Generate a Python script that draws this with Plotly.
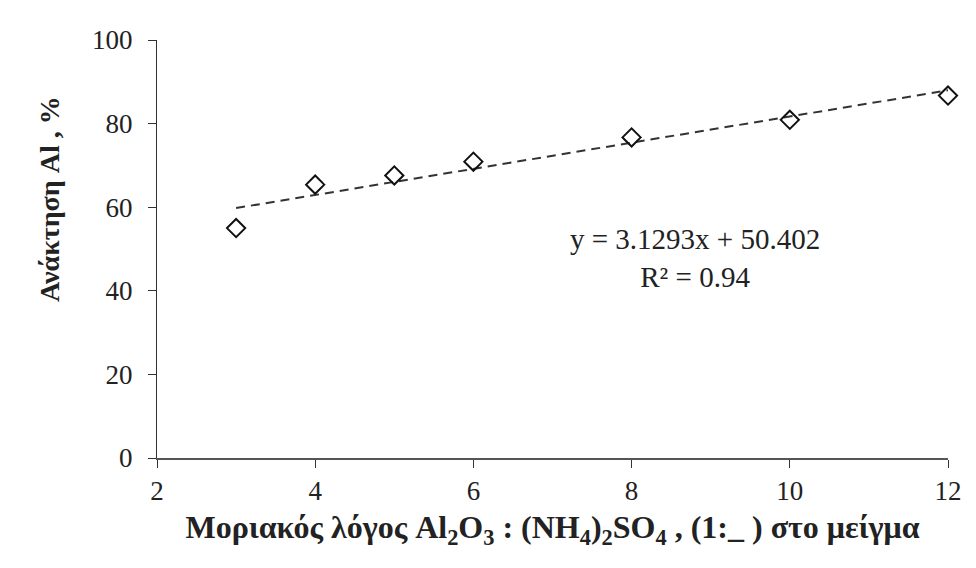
import numpy as np
import plotly.graph_objects as go

ratio = [3, 4, 5, 6, 8, 10, 12]
recovery = [55.0, 65.4, 67.6, 70.9, 76.7, 80.9, 86.7]
slope, intercept = 3.1293, 50.402
r2 = 0.94
x_ticks = [2, 4, 6, 8, 10, 12]
y_ticks = [0, 20, 40, 60, 80, 100]

serif = "Liberation Serif, Times New Roman, serif"

fit_x = np.array([min(ratio), max(ratio)], dtype=float)
fit_y = slope * fit_x + intercept

fig = go.Figure()
fig.add_trace(go.Scatter(
    x=fit_x, y=fit_y, mode="lines",
    line=dict(color="#333333", width=2, dash="9px,6px"),
    showlegend=False, hoverinfo="skip", cliponaxis=False))
fig.add_trace(go.Scatter(
    x=ratio, y=recovery, mode="markers", cliponaxis=False,
    marker=dict(symbol="diamond-open", size=14, color="#111111",
                line=dict(color="#111111", width=2)),
    showlegend=False))

fig.add_annotation(
    x=0.68, y=0.478, xref="paper", yref="paper", showarrow=False,
    xanchor="center", yanchor="middle",
    text=f"y = {slope}x + {intercept}<br>R² = {r2}",
    font=dict(family=serif, size=29, color="#222222"), align="center")

# y-axis title (shifted above plot centre, as in the reference)
fig.add_annotation(
    x=-0.135, y=0.62, xref="paper", yref="paper", showarrow=False,
    xanchor="center", yanchor="middle", textangle=-90,
    text="<b>Ανάκτηση Al , %</b>",
    font=dict(family=serif, size=28, color="#222222"))

fig.update_layout(
    width=976, height=568,
    margin=dict(l=157, r=28, t=40, b=110),
    paper_bgcolor="white", plot_bgcolor="white",
    font=dict(family=serif, color="#222222"),
    xaxis=dict(
        range=[2, 12], tickvals=x_ticks, ticks="outside", ticklen=8,
        tickwidth=1, tickcolor="#333333",
        showline=True, linecolor="#555555", linewidth=2,
        showgrid=False, zeroline=False,
        tickfont=dict(family=serif, size=27, color="#222222"),
        title=dict(text="<b>Μοριακός λόγος Al<sub>2</sub>O<sub>3</sub> : (NH<sub>4</sub>)<sub>2</sub>SO<sub>4</sub> , (1:_ ) στο μείγμα</b>",
                   font=dict(family=serif, size=32, color="#222222"), standoff=10)),
    yaxis=dict(
        range=[0, 100], tickvals=y_ticks, ticks="outside", ticklen=8,
        tickwidth=1, tickcolor="#333333", ticklabelstandoff=10,
        showline=True, linecolor="#333333", linewidth=1,
        showgrid=False, zeroline=False,
        tickfont=dict(family=serif, size=27, color="#222222")),
)

fig.write_html("out.html")
